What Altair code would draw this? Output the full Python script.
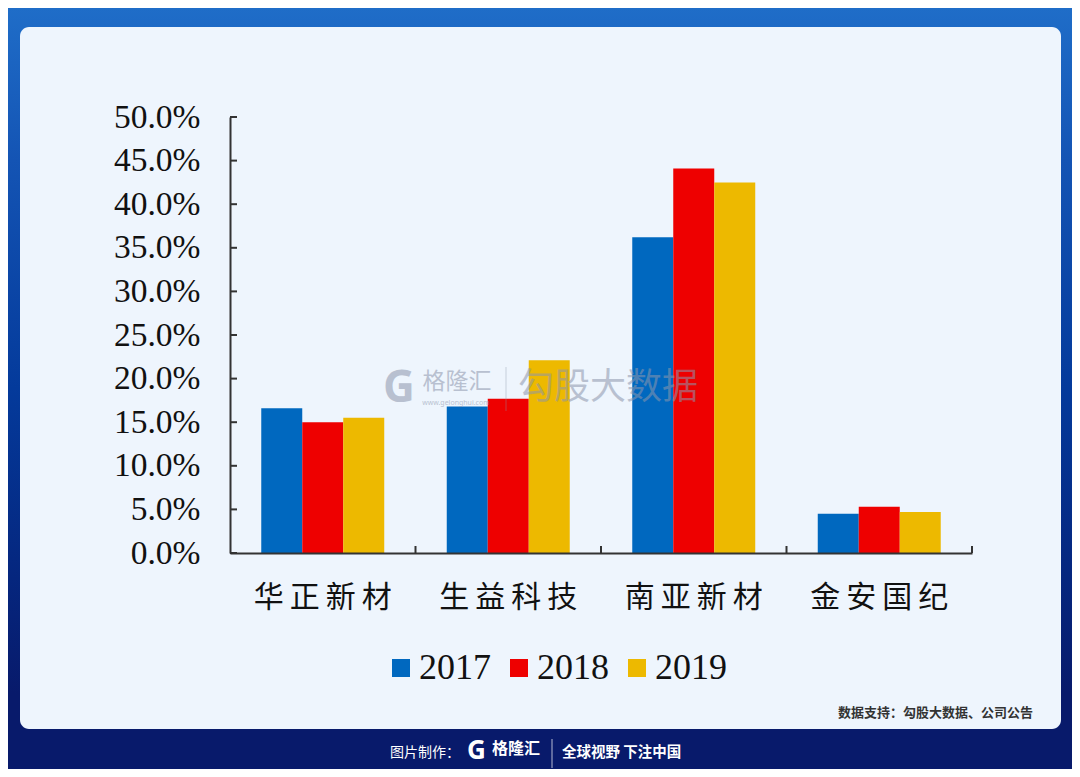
import altair as alt
import pandas as pd

# ---- data ----
companies = ["华正新材", "生益科技", "南亚新材", "金安国纪"]
years = ["2017", "2018", "2019"]
v2017 = [16.6, 16.8, 36.2, 4.5]
v2018 = [15.0, 17.7, 44.1, 5.3]
v2019 = [15.5, 22.1, 42.5, 4.7]
year_colors = ["#0068BF", "#EE0000", "#EDB900"]
y_ticks = [0, 5, 10, 15, 20, 25, 30, 35, 40, 45, 50]
band_edges = [1, 2, 3, 4]

rows = []
for yr, vals in zip(years, [v2017, v2018, v2019]):
    for c, v in zip(companies, vals):
        rows.append({"company": c, "year": yr, "value": v})
df = pd.DataFrame(rows)

W, H = 742, 436
dummy = pd.DataFrame({"k": [0]})

# background gradient (whole canvas)
grad = alt.Gradient(
    gradient="linear",
    stops=[
        alt.GradientStop(color="#1F6DC8", offset=0),
        alt.GradientStop(color="#1454B4", offset=0.2),
        alt.GradientStop(color="#043A9B", offset=0.5),
        alt.GradientStop(color="#05267E", offset=0.75),
        alt.GradientStop(color="#081A6B", offset=0.9),
        alt.GradientStop(color="#081A6B", offset=1),
    ],
    x1=0, x2=0, y1=0, y2=1,
)
bg = alt.Chart(dummy).mark_rect(color=grad).encode(
    x=alt.value(-222), x2=alt.value(842), y=alt.value(-109), y2=alt.value(652)
)

card = alt.Chart(dummy).mark_rect(color="#EEF5FD", cornerRadius=9).encode(
    x=alt.value(-210), x2=alt.value(831), y=alt.value(-90), y2=alt.value(612)
)

bars = alt.Chart(df).mark_bar().encode(
    x=alt.X(
        "company:N",
        sort=companies,
        scale=alt.Scale(paddingInner=0.337, paddingOuter=0.1685),
        axis=alt.Axis(
            title=None,
            ticks=False,
            zindex=1,
            domainColor="#333333",
            domainWidth=2,
            labelFont="Noto Sans CJK SC",
            labelFontSize=30,
            labelColor="#111111",
            labelPadding=29,
            labelAngle=0,
            labelExpr="join(split(datum.label, ''), '\u2009')",
        ),
    ),
    xOffset=alt.XOffset("year:N", sort=years),
    y=alt.Y(
        "value:Q",
        scale=alt.Scale(domain=[0, 50], nice=False),
        axis=alt.Axis(
            title=None,
            values=y_ticks,
            grid=False,
            ticks=False,
            zindex=1,
            domainColor="#333333",
            domainWidth=2,
            labelFont="Liberation Serif",
            labelFontSize=33.5,
            labelColor="#111111",
            labelPadding=30,
            labelExpr="format(datum.value, '.1f') + '%'",
        ),
    ),
    color=alt.Color(
        "year:N",
        sort=years,
        scale=alt.Scale(domain=years, range=year_colors),
        legend=alt.Legend(
            title=None,
            orient="none",
            direction="horizontal",
            legendX=153,
            legendY=533,
            symbolType="square",
            symbolSize=324,
            symbolStrokeWidth=0,
            symbolOpacity=1,
            labelFont="Liberation Serif",
            labelFontSize=36,
            labelColor="#111111",
            labelOffset=0,
            columnPadding=10,
        ),
    ),
)

ytick_df = pd.DataFrame({"t": y_ticks})
yticks = alt.Chart(ytick_df).mark_rule(color="#333333", strokeWidth=2).encode(
    y="t:Q", x=alt.value(0), x2=alt.value(7)
)

xtick_df = pd.DataFrame({"b": band_edges})
xticks = alt.Chart(xtick_df).mark_rule(color="#333333", strokeWidth=2).encode(
    x=alt.X("b:Q", scale=alt.Scale(domain=[0, 4]), axis=None),
    y=alt.value(H), y2=alt.value(H - 7),
)

# watermark
wm_g = alt.Chart(dummy).mark_text(
    text="G", font="Noto Sans", fontSize=44, fontWeight="bold", color="#8D96AC", opacity=0.55
).encode(x=alt.value(169), y=alt.value(272))
wm_gl = alt.Chart(dummy).mark_text(
    text="格隆汇", font="Noto Sans CJK SC", fontSize=23, color="#8D96AC", opacity=0.55
).encode(x=alt.value(227), y=alt.value(265))
wm_url = alt.Chart(dummy).mark_text(
    text="www.gelonghui.com", font="Noto Sans", fontSize=7, color="#8D96AC", opacity=0.55
).encode(x=alt.value(226), y=alt.value(286))
wm_sep = alt.Chart(dummy).mark_rule(color="#8D96AC", opacity=0.4).encode(
    x=alt.value(276), y=alt.value(250), y2=alt.value(294)
)
wm_gg = alt.Chart(dummy).mark_text(
    text="勾股大数据", font="Noto Sans CJK SC", fontSize=36, color="#8D96AC", opacity=0.55
).encode(x=alt.value(378), y=alt.value(271))

# footers
src = alt.Chart(dummy).mark_text(
    text="数据支持：勾股大数据、公司公告", font="Noto Sans CJK SC", fontSize=13,
    fontWeight="bold", color="#333333", align="right"
).encode(x=alt.value(803), y=alt.value(596))
maker = alt.Chart(dummy).mark_text(
    text="图片制作：", font="Noto Sans CJK SC", fontSize=14, color="#FFFFFF", align="left"
).encode(x=alt.value(160), y=alt.value(636))
logo_g = alt.Chart(dummy).mark_text(
    text="G", font="Noto Sans", fontSize=26, fontWeight="bold", color="#FFFFFF", align="left"
).encode(x=alt.value(237), y=alt.value(634))
logo_t = alt.Chart(dummy).mark_text(
    text="格隆汇", font="Noto Sans CJK SC", fontSize=16, fontWeight="bold", color="#FFFFFF", align="left"
).encode(x=alt.value(262), y=alt.value(632))
logo_sep = alt.Chart(dummy).mark_rule(color="#FFFFFF", opacity=0.7).encode(
    x=alt.value(322), y=alt.value(622), y2=alt.value(651)
)
slogan = alt.Chart(dummy).mark_text(
    text="全球视野 下注中国", font="Noto Sans CJK SC", fontSize=14.5, fontWeight="bold",
    color="#FFFFFF", align="left"
).encode(x=alt.value(332), y=alt.value(636))

chart = alt.layer(
    bg, card, bars, yticks, xticks,
    wm_g, wm_gl, wm_url, wm_sep, wm_gg,
    src, maker, logo_g, logo_t, logo_sep, slogan,
).resolve_scale(x="independent").properties(
    width=W, height=H,
    autosize=alt.AutoSizeParams(type="none"),
    padding={"left": 222, "top": 109, "right": 100, "bottom": 216},
    background="#0A2A86",
).configure_view(stroke=None)

chart.save("out.html", embed_options={"renderer": "svg", "actions": False})
